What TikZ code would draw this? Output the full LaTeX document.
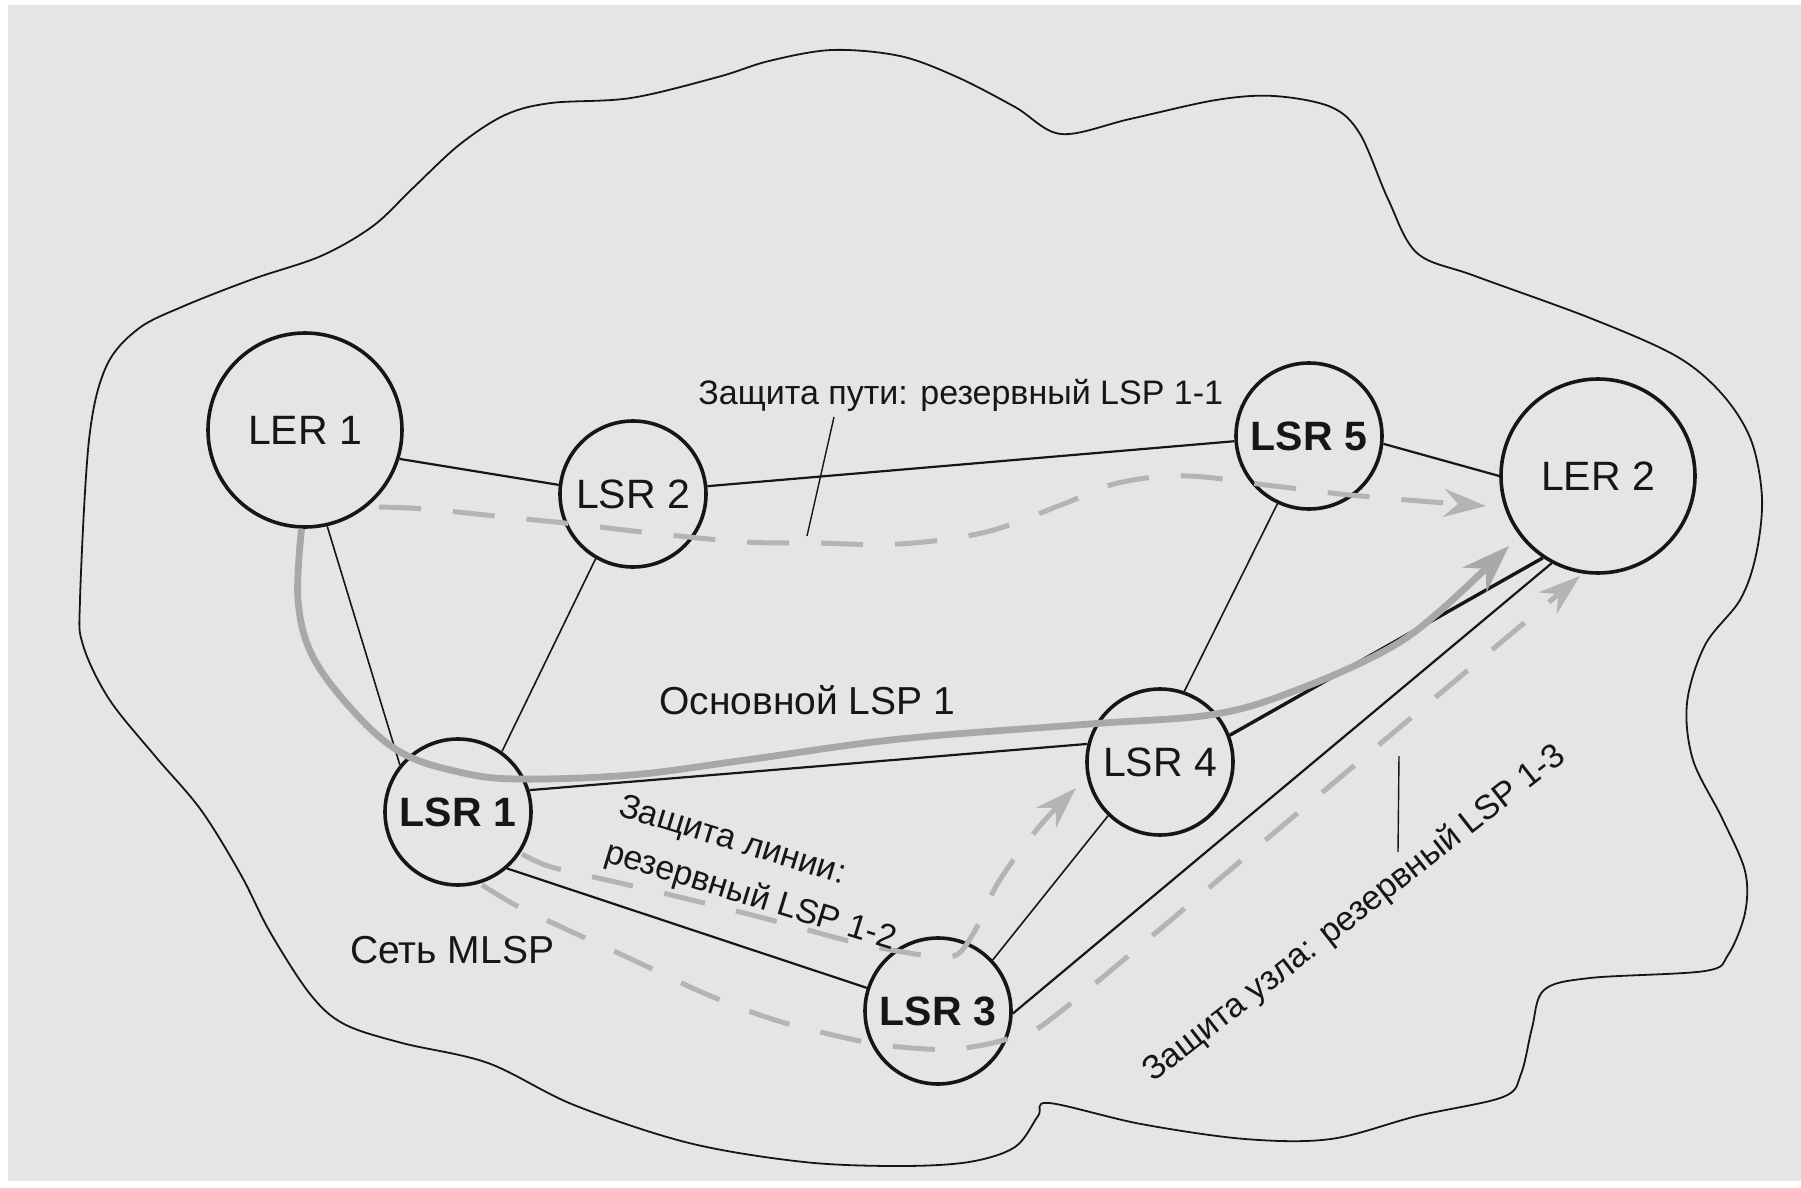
\documentclass[tikz,border=0pt]{standalone}
\usepackage{fontspec}
\setmainfont{Liberation Sans}
\usetikzlibrary{arrows.meta}
\definecolor{paper}{RGB}{229,229,229}
\definecolor{lspgray}{RGB}{168,168,168}
\definecolor{bakgray}{RGB}{180,180,180}
\definecolor{ink}{RGB}{22,22,22}

\begin{document}
\begin{tikzpicture}[x=0.5pt,y=-0.5pt,
  router/.style={circle, draw=ink, line width=1.8pt, minimum size=73pt, inner sep=0pt,
                 font=\fontsize{20.5}{24}\selectfont, text=ink},
  edgerouter/.style={router, minimum size=97pt},
  boldr/.style={font=\fontsize{20.5}{24}\selectfont\bfseries},
  link/.style={draw=ink, line width=1.1pt},
  thinlink/.style={draw=ink, line width=0.8pt},
  thicklink/.style={draw=ink, line width=1.7pt},
  mainlsp/.style={draw=lspgray, line width=3.4pt, -{Stealth[length=24pt,width=17pt]}},
  backup/.style={draw=bakgray, line width=2.5pt, dash pattern=on 21pt off 16pt,
                 -{Stealth[length=21pt,width=14pt]}},
  leader/.style={draw=ink, line width=0.7pt},
  lbl/.style={font=\fontsize{17}{24}\selectfont, text=ink, inner sep=0pt},
  biglbl/.style={font=\fontsize{19.5}{24}\selectfont, text=ink, inner sep=0pt},
  cloudline/.style={draw=ink, line width=0.9pt},
]
\useasboundingbox (0,0) rectangle (1801,1188);
\fill[white] (0,0) rectangle (1801,1188);
\fill[paper] (8,5) rectangle (1801,1181);

% network boundary
\draw[cloudline] plot[smooth cycle, tension=0.55] coordinates {
  (80,600) (89,440) (106,367) (138,329) (184,306) (253,279) (321,256) (373,226)
  (413,188) (459,145) (505,115) (551,103) (631,98) (718,77) (769,61) (832,50)
  (900,56) (957,77) (1015,107) (1061,134) (1130,119) (1216,100) (1274,96)
  (1331,107) (1360,134) (1388,199) (1417,253) (1475,276) (1590,318) (1676,356)
  (1722,394) (1751,440) (1762,498) (1756,555) (1740,600) (1705,645) (1687,703)
  (1693,760) (1722,818) (1745,871) (1745,913) (1728,955) (1705,971) (1590,978)
  (1544,990) (1532,1028) (1521,1074) (1503,1097) (1417,1116) (1331,1139)
  (1245,1139) (1141,1124) (1049,1103) (1038,1116) (1015,1147) (969,1162)
  (900,1166) (804,1162) (689,1143) (574,1105) (488,1063) (402,1043) (344,1024)
  (310,994) (270,932) (241,875) (201,810) (155,756) (109,699) (83,645)};

% routers
\node[edgerouter] (ler1) at (305,430) {LER 1};
\node[router] (lsr2) at (633,494) {LSR 2};
\node[router, boldr] (lsr5) at (1309,436) {LSR 5};
\node[edgerouter] (ler2) at (1598,476) {LER 2};
\node[router] (lsr4) at (1160,762) {LSR 4};
\node[router, boldr] (lsr1) at (458,812) {LSR 1};
\node[router, boldr] (lsr3) at (938,1011) {LSR 3};

% physical links
\draw[link] (ler1.-17) -- (lsr2.173);
\draw[link] (lsr2.6) -- (lsr5.184);
\draw[link] (lsr5.-6) -- (ler2.180);
\draw[thinlink] (ler1.-77) -- (lsr1.141);
\draw[thinlink] (lsr2.-120) -- (lsr1.54);
\draw[link] (lsr1.17) -- (lsr4.166);
\draw[thicklink] (lsr4.21) -- (ler2.-124);
\draw[thinlink] (lsr5.-115) -- (lsr4.71);
\draw[link] (lsr1.-49) -- (lsr3.162);
\draw[thinlink] (lsr3.43) -- (lsr4.-134);
\draw[link] (lsr3.-2) -- (ler2.-118);

% ends of the label switched paths
\coordinate (m1e) at (1509,546);
\coordinate (b1s) at (379,507);
\coordinate (b1e) at (1486,506);
\coordinate (b2s) at (522,854);
\coordinate (b2e) at (1076,788);
\coordinate (b3s) at (482,885);
\coordinate (b3e) at (1580,576);

% primary LSP
\draw[mainlsp] plot[smooth, tension=0.6] coordinates {
  (ler1.-92) (298,600) (313,657) (356,714) (402,753) (459,772) (517,779)
  (631,775) (746,760) (900,739) (1090,724) (1216,714) (1302,688) (1388,649)
  (1440,611) (m1e)};

% backup LSP 1-1 (path protection)
\draw[backup] plot[smooth, tension=0.6] coordinates {
  (b1s) (425,509) (505,517) (574,524) (660,534) (746,542) (815,543) (900,544)
  (986,532) (1061,505) (1118,483) (1187,476) (1274,486) (1360,496) (b1e)};

% backup LSP 1-2 (link protection)
\draw[backup] plot[smooth, tension=0.5] coordinates {
  (b2s) (551,867) (620,883) (700,902) (775,921) (861,944) (930,956) (958,954)
  (978,925) (995,888) (1017,855) (1044,821) (b2e)};

% backup LSP 1-3 (node protection)
\draw[backup] plot[smooth, tension=0.55] coordinates {
  (b3s) (517,906) (557,925) (631,959) (706,994) (775,1020) (855,1040)
  (900,1047) (955,1049) (1010,1038) (1060,1012) (1300,811) (b3e)};

% labels
\node[lbl, anchor=base west] (t11) at (698,404) {Защита пути: резервный LSP 1-1};
\coordinate (l11a) at (834,417);
\coordinate (l11b) at (807,536);
\draw[leader] (l11a) -- (l11b);

\node[biglbl, anchor=base west] (tmain) at (659,714) {Основной LSP 1};
\node[biglbl, anchor=base west] (tnet) at (350,963) {Сеть MLSP};

\node[lbl, align=left, rotate=-17, anchor=north west] (t12) at (624,792)
  {Защита линии:\\резервный LSP 1-2};

\node[lbl, rotate=38] (t13) at (1355,914) {Защита узла: резервный LSP 1-3};
\coordinate (l13a) at (1399,756);
\coordinate (l13b) at (1398,852);
\draw[leader] (l13a) -- (l13b);
\end{tikzpicture}
\end{document}
